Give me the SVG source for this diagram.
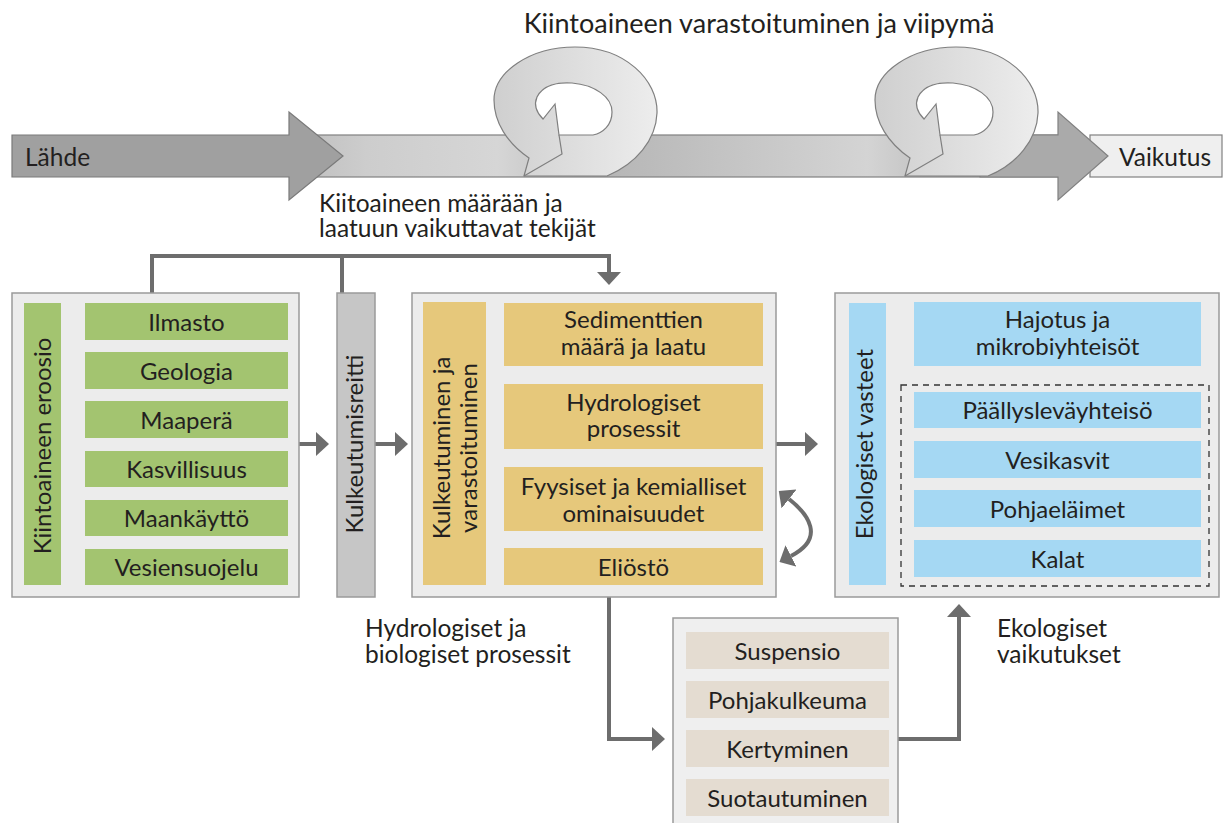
<svg xmlns="http://www.w3.org/2000/svg" width="1226" height="823" viewBox="0 0 1226 823">
<defs>
<style>
text{font-family:Lato,"Liberation Sans",sans-serif;fill:#231f20;}
.t{font-size:24px;text-anchor:middle;}
.c{font-size:24.5px;}
.frame{fill:#ececec;stroke:#9a9a9a;stroke-width:1.5;}
.g{fill:#a3c470;}
.y{fill:#e6c87b;}
.b{fill:#a5d8f3;}
.p{fill:#e4dcd1;}
.conn{fill:none;stroke:#6d6d6d;stroke-width:4;stroke-linejoin:miter;}
.sw{stroke:#7f7f7f;stroke-width:1.2;}
</style>
<marker id="ah" markerUnits="userSpaceOnUse" markerWidth="13" markerHeight="24" refX="0" refY="12" orient="auto-start-reverse" viewBox="0 0 13 24">
<path d="M0,0 L13,12 L0,24 Z" fill="#6d6d6d"/>
</marker>
<linearGradient id="band" gradientUnits="userSpaceOnUse" x1="290" y1="0" x2="1060" y2="0">
<stop offset="0" stop-color="#bdbdbd"/>
<stop offset="0.1" stop-color="#cdcdcd"/>
<stop offset="0.27" stop-color="#d6d6d6"/>
<stop offset="0.41" stop-color="#b6b6b6"/>
<stop offset="0.75" stop-color="#d4d4d4"/>
<stop offset="0.9" stop-color="#b2b2b2"/>
<stop offset="1" stop-color="#acacac"/>
</linearGradient>
<linearGradient id="swg" x1="0" y1="0" x2="1" y2="0">
<stop offset="0" stop-color="#cfcfcf"/>
<stop offset="1" stop-color="#ededed"/>
</linearGradient>
</defs>
<rect width="1226" height="823" fill="#ffffff"/>

<g id="top-band">
<rect x="290" y="135" width="775" height="42" fill="url(#band)" stroke="#808080" stroke-width="1.2"/>
<rect x="1090" y="135" width="132" height="42" fill="#efefef" stroke="#808080" stroke-width="1.2"/>
<polygon points="980,135 1058,135 1058,112 1108,156 1058,200 1058,177 980,177" fill="#aaaaaa" stroke="#808080" stroke-width="1.2"/>
<polygon points="12,135 289,135 289,112 343,156 289,200 289,177 12,177" fill="#a0a0a0" stroke="#7a7a7a" stroke-width="1.2"/>
<text x="25" y="166" class="c">Lähde</text>
<text x="1119" y="166" class="c">Vaikutus</text>
</g>

<g id="swirl1">
<path class="sw" fill="url(#swg)" d="M607,176 C636,164 656,140 657,113 C658,80 625,47 575,47 C530,47 494,72 494,100 C494,122 507,143 529,158 L524,176 Z"/>
<path class="sw" fill="#ffffff" d="M555,104 L543,119 C536,112 534,104 537,97 C543,85 558,82 572,83 C595,85 612,97 612,112 C612,125 603,133 593,135 L559,135 Z"/>
<path class="sw" fill="none" d="M524,176 L562,154 L559,135"/>
</g>
<g id="swirl2">
<path class="sw" fill="url(#swg)" d="M988,176 C1017,164 1037,140 1038,113 C1039,80 1006,47 956,47 C911,47 875,72 875,100 C875,122 888,143 910,158 L905,176 Z"/>
<path class="sw" fill="#ffffff" d="M936,104 L924,119 C917,112 915,104 918,97 C924,85 939,82 953,83 C976,85 993,97 993,112 C993,125 984,133 974,135 L940,135 Z"/>
<path class="sw" fill="none" d="M905,176 L943,154 L940,135"/>
</g>

<g id="title">
<text x="759" y="33" style="font-size:27px;text-anchor:middle">Kiintoaineen varastoituminen ja viipymä</text>
</g>
<g id="caption-top">
<text class="c"><tspan x="319" y="212">Kiitoaineen määrään ja</tspan><tspan x="319" y="237">laatuun vaikuttavat tekijät</tspan></text>
</g>

<g id="connectors">
<path class="conn" d="M152,293 V256 H609 V272" marker-end="url(#ah)"/>
<path class="conn" d="M342,256 V293"/>
<path class="conn" d="M299,444 H316" marker-end="url(#ah)"/>
<path class="conn" d="M375,444 H395" marker-end="url(#ah)"/>
<path class="conn" d="M776,444 H805" marker-end="url(#ah)"/>
<path class="conn" d="M609,597 V739 H652" marker-end="url(#ah)"/>
<path class="conn" d="M898,739 H959 V617" marker-end="url(#ah)"/>
<path class="conn" d="M789,499 C808,514 826,538 791,556" marker-start="url(#ah)" marker-end="url(#ah)"/>
</g>

<g id="erosion">
<rect class="frame" x="12" y="293" width="287" height="304"/>
<rect class="g" x="24" y="303" width="37" height="282"/>
<text transform="translate(51,446) rotate(-90)" class="t">Kiintoaineen eroosio</text>
<rect class="g" x="85" y="303" width="203" height="37"/>
<text x="186.5" y="331" class="t">Ilmasto</text>
<rect class="g" x="85" y="352" width="203" height="37"/>
<text x="186.5" y="380" class="t">Geologia</text>
<rect class="g" x="85" y="401" width="203" height="37"/>
<text x="186.5" y="429" class="t">Maaperä</text>
<rect class="g" x="85" y="451" width="203" height="36"/>
<text x="186.5" y="478" class="t">Kasvillisuus</text>
<rect class="g" x="85" y="500" width="203" height="36"/>
<text x="186.5" y="527" class="t">Maankäyttö</text>
<rect class="g" x="85" y="549" width="203" height="36"/>
<text x="186.5" y="576" class="t">Vesiensuojelu</text>
</g>

<g id="route">
<rect x="337" y="293" width="38" height="304" fill="#c6c6c6" stroke="#9a9a9a" stroke-width="1.5"/>
<text transform="translate(363,444) rotate(-90)" class="t">Kulkeutumisreitti</text>
</g>

<g id="transport">
<rect class="frame" x="412" y="293" width="364" height="304"/>
<rect class="y" x="423" y="302" width="63" height="283"/>
<text transform="rotate(-90)" class="t"><tspan x="-448" y="450">Kulkeutuminen ja</tspan><tspan x="-448" y="477">varastoituminen</tspan></text>
<rect class="y" x="504" y="303" width="259" height="63"/>
<text class="t"><tspan x="633.5" y="328">Sedimenttien</tspan><tspan x="633.5" y="355">määrä ja laatu</tspan></text>
<rect class="y" x="504" y="384" width="259" height="65"/>
<text class="t"><tspan x="633.5" y="411">Hydrologiset</tspan><tspan x="633.5" y="437">prosessit</tspan></text>
<rect class="y" x="504" y="467" width="259" height="64"/>
<text class="t"><tspan x="633.5" y="495">Fyysiset ja kemialliset</tspan><tspan x="633.5" y="522">ominaisuudet</tspan></text>
<rect class="y" x="504" y="548" width="259" height="37"/>
<text x="633.5" y="576" class="t">Eliöstö</text>
</g>

<g id="ecology">
<rect class="frame" x="835" y="293" width="384" height="304"/>
<rect class="b" x="849" y="303" width="37" height="282"/>
<text transform="translate(873,444) rotate(-90)" class="t">Ekologiset vasteet</text>
<rect class="b" x="914" y="302" width="287" height="64"/>
<text class="t"><tspan x="1057.5" y="328">Hajotus ja</tspan><tspan x="1057.5" y="355">mikrobiyhteisöt</tspan></text>
<rect x="901" y="385" width="308" height="201" fill="none" stroke="#333333" stroke-width="1.3" stroke-dasharray="6,5"/>
<rect class="b" x="914" y="392" width="287" height="36"/>
<text x="1057.5" y="419" class="t">Päällysleväyhteisö</text>
<rect class="b" x="914" y="441" width="287" height="37"/>
<text x="1057.5" y="469" class="t">Vesikasvit</text>
<rect class="b" x="914" y="490" width="287" height="37"/>
<text x="1057.5" y="518" class="t">Pohjaeläimet</text>
<rect class="b" x="914" y="540" width="287" height="37"/>
<text x="1057.5" y="568" class="t">Kalat</text>
</g>

<g id="processes">
<rect class="frame" x="673" y="618" width="225" height="212" style="fill:#efefef"/>
<rect class="p" x="686" y="632" width="203" height="37"/>
<text x="787.5" y="660" class="t">Suspensio</text>
<rect class="p" x="686" y="681" width="203" height="37"/>
<text x="787.5" y="709" class="t">Pohjakulkeuma</text>
<rect class="p" x="686" y="730" width="203" height="37"/>
<text x="787.5" y="758" class="t">Kertyminen</text>
<rect class="p" x="686" y="779" width="203" height="37"/>
<text x="787.5" y="807" class="t">Suotautuminen</text>
</g>

<g id="labels">
<text class="c"><tspan x="365" y="637">Hydrologiset ja</tspan><tspan x="365" y="663">biologiset prosessit</tspan></text>
<text class="c"><tspan x="997" y="637">Ekologiset</tspan><tspan x="997" y="663">vaikutukset</tspan></text>
</g>
</svg>
